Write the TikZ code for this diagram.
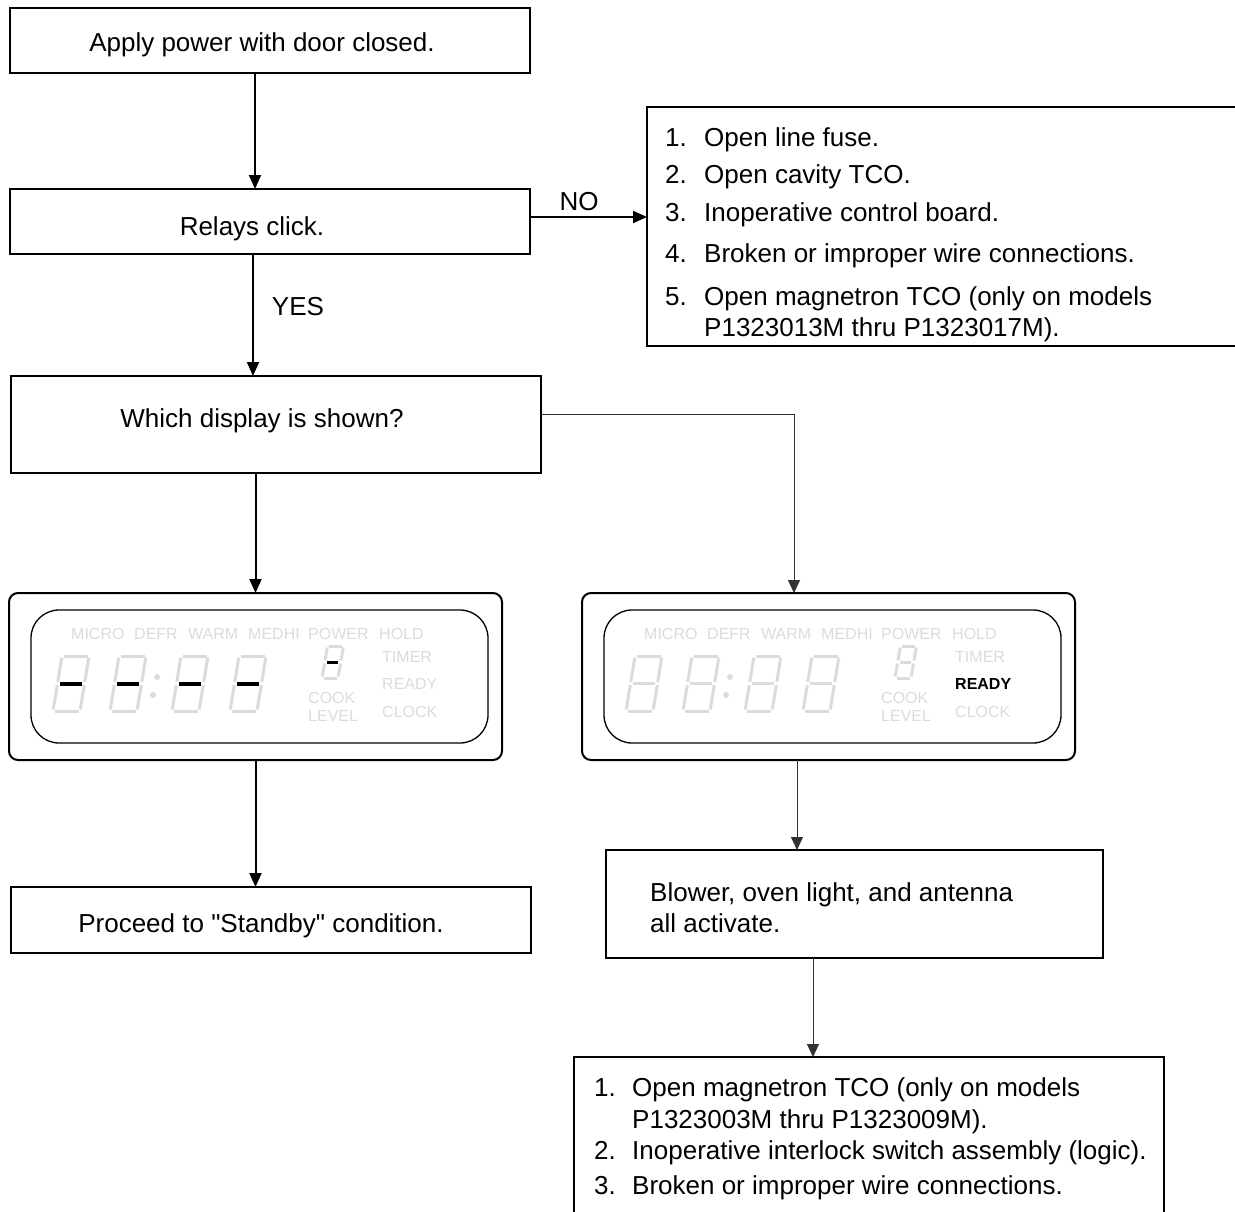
\documentclass[tikz,border=0pt]{standalone}
\usepackage{fontspec}
\setmainfont{Liberation Sans}[Ligatures=TeXOff]
\usetikzlibrary{arrows.meta}
\definecolor{lcd}{gray}{0.86}

% one slanted 7-segment digit: #1,#2 bottom-left, #3 width, #4 height, #5 middle colour, #6 middle width, #7 slant
\newcommand\segdigit[7]{%
  \begin{scope}[shift={(#1,#2)},y=1pt,xslant=#7]
    \draw[seg] (1.5,0) -- (#3-1.5,0);
    \draw[seg] (1.5,#4) -- (#3-1.5,#4);
    \draw[seg] (0,1.5) -- (0,#4/2-1.5);
    \draw[seg] (0,#4/2+1.5) -- (0,#4-1.5);
    \draw[seg] (#3,1.5) -- (#3,#4/2-1.5);
    \draw[seg] (#3,#4/2+1.5) -- (#3,#4-1.5);
    \draw[line width=#6,draw=#5] (2.5,#4/2) -- (#3-2.5,#4/2);
  \end{scope}}

% display contents: #1,#2 inner top-left, #3 middle colour, #4 middle width, #5 READY style, #6 name prefix
\newcommand\lcdpanel[6]{%
  \begin{scope}[shift={(#1,#2)}]
    \node[lcdlabel] (#6micro) at (40,29) {MICRO};
    \node[lcdlabel] (#6defr)  at (103,29) {DEFR};
    \node[lcdlabel] (#6warm)  at (157,29) {WARM};
    \node[lcdlabel] (#6medhi) at (217,29) {MEDHI};
    \node[lcdlabel] (#6power) at (277,29) {POWER};
    \node[lcdlabel] (#6hold)  at (348,29) {HOLD};
    \node[lcdlabel] (#6timer) at (351,52) {TIMER};
    \node[lcdlabel,#5] (#6ready) at (351,79) {READY};
    \node[lcdlabel] (#6clock) at (351,107) {CLOCK};
    \node[lcdlabel] (#6cook)  at (277,93) {COOK};
    \node[lcdlabel] (#6level) at (277,111) {LEVEL};
    \segdigit{22}{101}{27}{55}{#3}{#4}{0.164}
    \segdigit{79}{101}{27}{55}{#3}{#4}{0.164}
    \segdigit{141}{101}{27}{55}{#3}{#4}{0.164}
    \segdigit{199}{101}{27}{55}{#3}{#4}{0.164}
    \fill[lcd] (126,67) circle (3pt);
    \fill[lcd] (122,85) circle (3pt);
    \segdigit{291}{68}{16}{32}{#3}{3pt}{0.17}
  \end{scope}}

\begin{document}
\begin{tikzpicture}[x=1pt,y=-1pt,
  box/.style={draw, line width=2pt, rectangle, inner sep=0pt, outer sep=0pt},
  disp/.style={draw, line width=2pt, rectangle, rounded corners=9pt, inner sep=0pt, outer sep=0pt,
               minimum width=493pt, minimum height=167pt},
  txt/.style={font=\fontsize{26}{31}\selectfont, inner sep=0pt, anchor=base west},
  ctxt/.style={font=\fontsize{26}{31}\selectfont, inner sep=0pt, anchor=base},
  thickarrow/.style={line width=2pt, -{Triangle[length=14pt,width=12pt]}},
  thinarrow/.style={line width=1pt, draw=black!80, -{Triangle[length=13pt,width=12pt]}},
  lcdlabel/.style={font=\fontsize{16}{18}\selectfont, text=lcd, inner sep=0pt, anchor=base west},
  seg/.style={line width=3pt, draw=lcd},
]
\useasboundingbox (0,0) rectangle (1235,1211);
\clip (0,0) rectangle (1235,1211);

% boxes
\node[box, minimum width=520pt, minimum height=65pt] (apply) at (270,40.5) {};
\node[ctxt] (applyt) at (262,51) {Apply power with door closed.};
\node[box, minimum width=520pt, minimum height=65pt] (relays) at (270,221.5) {};
\node[ctxt] (relayst) at (252,235) {Relays click.};
\node[box, minimum width=530pt, minimum height=97pt] (which) at (276,424.5) {};
\node[ctxt] (whicht) at (262,427) {Which display is shown?};
\node[box, minimum width=520pt, minimum height=66pt] (standby) at (271,920) {};
\node[ctxt] (standbyt) at (261,932) {Proceed to "Standby" condition.};
\node[box, minimum width=497pt, minimum height=108pt] (blower) at (854.5,904) {};
\node[txt] (blowert1) at (650,901) {Blower, oven light, and antenna};
\node[txt] (blowert2) at (650,932) {all activate.};

\node[box, minimum width=613pt, minimum height=239pt] (nobox) at (953.5,226.5) {};
\node[txt] (n1) at (665,146) {1.};  \node[txt] (t1) at (704,146) {Open line fuse.};
\node[txt] (n2) at (665,183) {2.};  \node[txt] (t2) at (704,183) {Open cavity TCO.};
\node[txt] (n3) at (665,221) {3.};  \node[txt] (t3) at (704,221) {Inoperative control board.};
\node[txt] (n4) at (665,262) {4.};  \node[txt] (t4) at (704,262) {Broken or improper wire connections.};
\node[txt] (n5) at (665,305) {5.};  \node[txt] (t5) at (704,305) {Open magnetron TCO (only on models};
\node[txt] (t5b) at (704,336) {P1323013M thru P1323017M).};

\node[box, minimum width=590pt, minimum height=183pt] (bottom) at (869,1148.5) {};
\node[txt] (b1) at (594,1096) {1.};  \node[txt] (bt1) at (632,1096) {Open magnetron TCO (only on models};
\node[txt] (bt1b) at (632,1128) {P1323003M thru P1323009M).};
\node[txt] (b2) at (594,1159) {2.};  \node[txt] (bt2) at (632,1159) {Inoperative interlock switch assembly (logic).};
\node[txt] (b3) at (594,1194) {3.};  \node[txt] (bt3) at (632,1194) {Broken or improper wire connections.};

% displays
\node[disp] (ldisp) at (255.5,676.5) {};
\draw[line width=1.3pt, rounded corners=28pt] (31,610) rectangle (488,743);
\lcdpanel{31}{610}{black}{4pt}{}{l}
\node[disp] (rdisp) at (828.5,676.5) {};
\draw[line width=1.3pt, rounded corners=28pt] (604,610) rectangle (1061,743);
\lcdpanel{604}{610}{lcd}{3pt}{text=black,font=\bfseries\fontsize{16}{18}\selectfont}{r}

% connectors
\draw[thickarrow] ([xshift=-15pt]apply.south) -- ([xshift=-15pt]relays.north);
\draw[thickarrow] ([xshift=-17pt]relays.south) -- ([xshift=-17pt]relays.south |- which.north)
  node[ctxt, pos=0.5, xshift=45pt] (yes) {YES};
\draw[thickarrow] ([yshift=4.5pt]relays.east) -- ([yshift=4.5pt]relays.east -| nobox.west);
\node[ctxt] (no) at (579,210) {NO};
\draw[thickarrow] (which.south -| ldisp.north) -- (ldisp.north);
\draw[thinarrow] ([yshift=10.5pt]which.east) -| ([xshift=-34.5pt]rdisp.north);
\draw[thickarrow] (ldisp.south) -- (ldisp.south |- standby.north);
\draw[thinarrow] ([xshift=-31.5pt]rdisp.south) -- ([xshift=-31.5pt]rdisp.south |- blower.north);
\draw[thinarrow] ([xshift=-41.5pt]blower.south) -- ([xshift=-41.5pt]blower.south |- bottom.north);
\end{tikzpicture}
\end{document}
